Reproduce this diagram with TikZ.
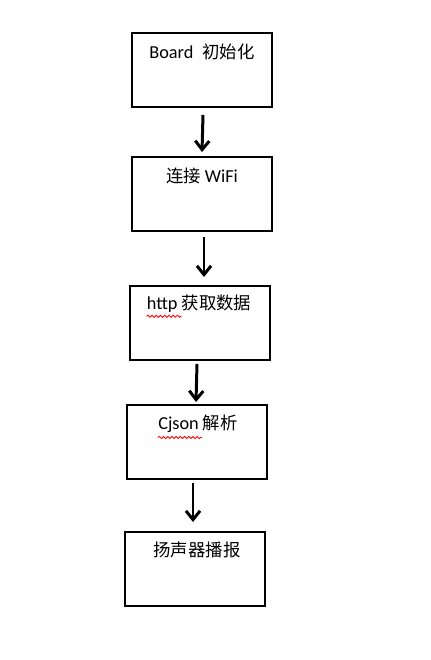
\documentclass[tikz,border=0pt]{standalone}
\usepackage{fontspec}
\setmainfont{Carlito}
\newfontfamily\cjk{Noto Sans CJK SC}[Scale=0.95]
\usetikzlibrary{arrows.meta, positioning, calc, decorations.pathmorphing}

\begin{document}
\begin{tikzpicture}[
    x=0.02cm,
    y=-0.02cm,
    >={Straight Barb[length=5pt,width=8pt]},
    stepbox/.style={draw, line width=1.1pt, minimum width=140*0.02cm, minimum height=74*0.02cm, inner sep=0pt},
    boxtext/.style={anchor=north, inner sep=0pt, font=\fontsize{10.4}{12}\selectfont},
    flow/.style={->, line width=1.7pt},
    spell/.style={red, line width=0.5pt, decorate, decoration={snake, amplitude=0.6pt, segment length=2.4pt}}
]
\useasboundingbox (0,0) rectangle (431,660);
% Boxes
\node[stepbox] (board) at (202,70) {};
\node[stepbox] (wifi) at (202,194) {};
\node[stepbox] (http) at (200,323) {};
\node[stepbox] (json) at (197,442) {};
\node[stepbox] (spk) at (195,569) {};
% Labels
\node[boxtext] (tboard) at ([yshift=-12*0.02cm]board.north) {Board\enspace{\cjk 初始化}};
\node[boxtext] (twifi) at ([yshift=-12*0.02cm]wifi.north) {{\cjk 连接} WiFi};
\node[boxtext] (thttp) at ([xshift=-1*0.02cm,yshift=-10*0.02cm]http.north) {http {\cjk 获取数据}};
\node[boxtext] (tjson) at ([xshift=1*0.02cm,yshift=-11*0.02cm]json.north) {Cjson {\cjk 解析}};
\node[boxtext] (tspk) at ([xshift=2*0.02cm,yshift=-10*0.02cm]spk.north) {{\cjk 扬声器播报}};
% Spelling marks
\draw[spell] ($(thttp.south west)+(0,3)$) -- ++(35,0);
\draw[spell] ($(tjson.south west)+(0,4)$) -- ++(44,0);
% Arrows
\draw[flow] ($(board.south)+(1,7)$) -- ($(wifi.north)+(0,-4)$);
\draw[flow] ($(wifi.south)+(2,5)$) -- ($(http.north)+(4,-8)$);
\draw[flow] ($(http.south)+(-3,3)$) -- ($(json.north)+(-1,-2)$);
\draw[flow] ($(json.south)+(-4,3)$) -- ($(spk.north)+(-2,-9)$);
\end{tikzpicture}
\end{document}
